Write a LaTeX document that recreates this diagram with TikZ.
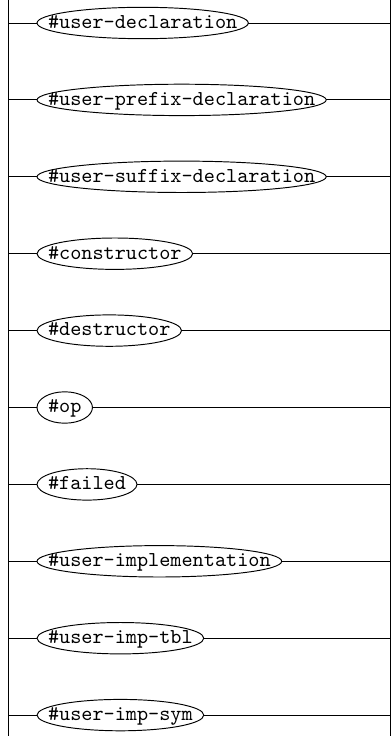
\documentclass[tikz,border=0pt]{standalone}
\usetikzlibrary{calc}
\begin{document}
\begin{tikzpicture}[x=0.4716pt,y=-0.4716pt,
  rail/.style={line width=0.45pt},
  term/.style={anchor=west,inner xsep=5pt,inner ysep=0pt,text height=7.2pt,text depth=2.2pt,
               font=\ttfamily,minimum height=12.4pt},
  oval/.style={line width=0.45pt}]
\useasboundingbox (0,0) rectangle (391,736);
% the two vertical rails of the choice
\coordinate (lt) at (8,0);   \coordinate (lb) at (8,736);
\coordinate (rt) at (390,0); \coordinate (rb) at (390,736);
\draw[rail] (lt) -- (lb);
\draw[rail] (rt) -- (rb);
% one branch per alternative: an oval round each label
\foreach \lab [count=\i] in {%
  {\#user-declaration},{\#user-prefix-declaration},{\#user-suffix-declaration},%
  {\#constructor},{\#destructor},{\#op},{\#failed},%
  {\#user-implementation},{\#user-imp-tbl},{\#user-imp-sym}}{
  \pgfmathsetmacro{\yy}{23+(\i-1)*76.9}
  \coordinate (l\i) at (8,\yy);
  \coordinate (r\i) at (390,\yy);
  \node[term] (t\i) at (37,\yy) {\lab};
  \draw[oval] let \p1=($(t\i.east)-(t\i.center)$) in
    (t\i.center) ellipse [x radius=\x1, y radius=7.4pt];
  \draw[rail] (l\i) -- (t\i.west);
  \draw[rail] (t\i.east) -- (r\i);
}
\end{tikzpicture}
\end{document}
